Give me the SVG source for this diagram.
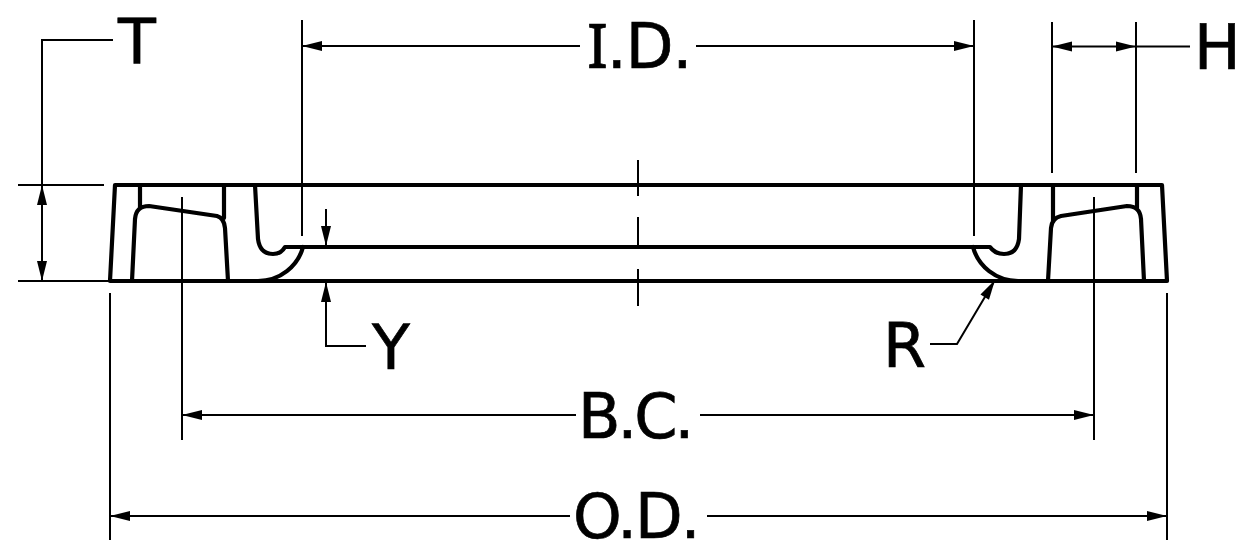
<svg xmlns="http://www.w3.org/2000/svg" width="1235" height="544" viewBox="0 0 1235 544">
<style>
.t{font-family:"DejaVu Sans",sans-serif;font-size:62px;fill:#000;stroke:#000;stroke-width:.7}
.n{font-family:"Noto Sans",sans-serif}
.o{fill:none;stroke:#000;stroke-width:4.200;stroke-linejoin:round;stroke-linecap:round}
.d{fill:none;stroke:#000;stroke-width:2}
.a{fill:#000;stroke:none}
</style>
<defs>
<polygon id="ah" class="a" points="0,0 20,-5 20,5"/>
</defs>
<rect width="1235" height="544" fill="#fff"/>
<g id="flange">
<path class="o" d="M115,185H1162L1167,281H110Z"/>
<path class="o" d="M140,185V208M224,185V218M132,281L135,219Q136,206 149,206L217,216Q224,218 225,228L228,281"/>
<path class="o" d="M255,185L258,239Q260,254 273,254Q281,254 285,247H990Q995,254 1004,254Q1017,254 1019,239L1021,185"/>
<path class="o" d="M303,247C298,266 280,281 258,281M973,247C978,266 996,281 1018,281"/>
<path class="o" d="M1053,185V222M1137,185V208M1048,281L1051,228Q1052,218 1061,216L1127,206Q1140,206 1141,219L1144,281"/>
</g>
<g id="connectors">
<path class="d" d="M638,160V196M638,217V247M638,269V306"/>
<path class="d" d="M302,20V236M974,20V236M302,46H580M696,46H974"/>
<path class="d" d="M1052,22V173M1136,22V173M1052,46.500H1190"/>
<path class="d" d="M113,40H42V281M18,185H104M18,281H110"/>
<path class="d" d="M326,209V245M326,282V346H366"/>
<path class="d" d="M182,197V440M1094,197V440M182,415H576M700,415H1094"/>
<path class="d" d="M110,293V540M1167,293V540M110,516H570M707,516H1167"/>
<path class="d" d="M995,280L957,344H930"/>
<use href="#ah" transform="translate(302,46)"/>
<use href="#ah" transform="translate(974,46) rotate(180)"/>
<use href="#ah" transform="translate(1052,46.500)"/>
<use href="#ah" transform="translate(1136,46.500) rotate(180)"/>
<use href="#ah" transform="translate(42,185) rotate(90)"/>
<use href="#ah" transform="translate(42,281) rotate(-90)"/>
<use href="#ah" transform="translate(326,246) rotate(-90)"/>
<use href="#ah" transform="translate(326,282) rotate(90)"/>
<use href="#ah" transform="translate(182,415)"/>
<use href="#ah" transform="translate(1094,415) rotate(180)"/>
<use href="#ah" transform="translate(110,516)"/>
<use href="#ah" transform="translate(1167,516) rotate(180)"/>
<use href="#ah" transform="translate(995,280) rotate(121)"/>
</g>
<g id="labels">
<text class="t" x="118" y="63">T</text>
<text class="t" x="587" y="68" letter-spacing="-1"><tspan class="n">I</tspan>.D.</text>
<text class="t" x="1194" y="69">H</text>
<text class="t" x="372" y="369">Y</text>
<text class="t" x="883" y="367">R</text>
<text class="t" x="578" y="438" letter-spacing="-3">B.C.</text>
<text class="t" x="573" y="538" letter-spacing="-2">O.D.</text>
</g>
</svg>
